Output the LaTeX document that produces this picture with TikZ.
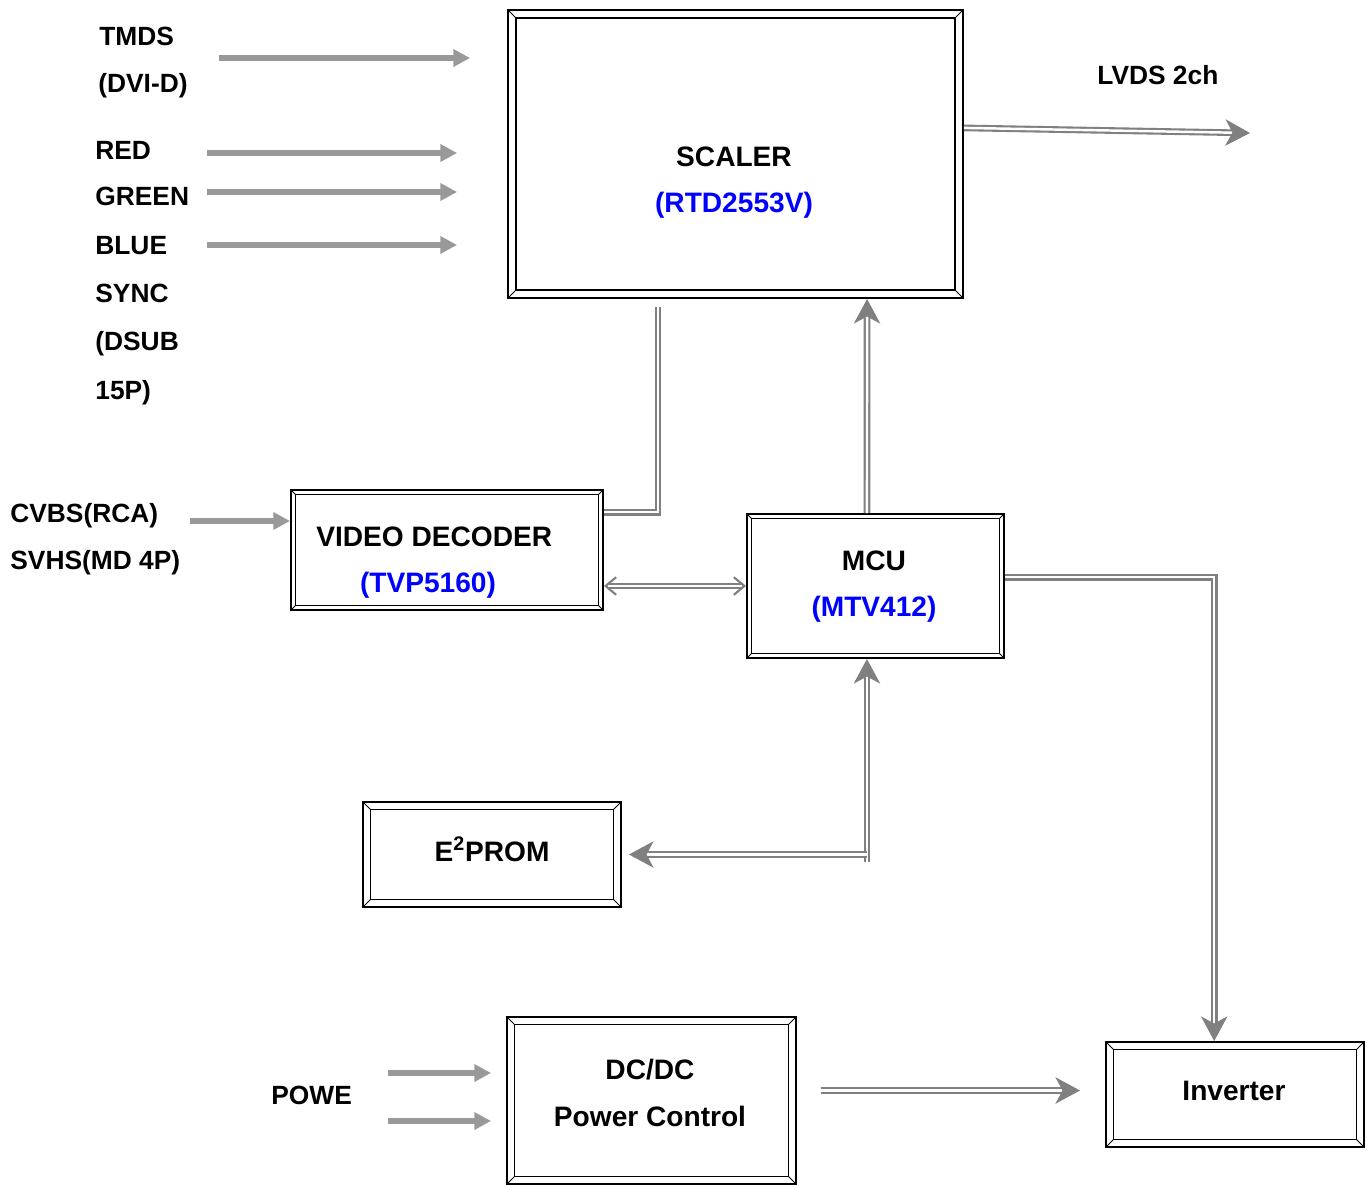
\documentclass[tikz,border=0pt]{standalone}
\usepackage{fontspec}
\setmainfont{Liberation Sans}
\usetikzlibrary{arrows.meta}
\usetikzlibrary{calc}
\tikzstyle{tag} = [font=\bfseries\fontsize{15}{18}\selectfont, inner sep=0pt, anchor=base west]
\tikzstyle{boxtext} = [font=\bfseries\fontsize{16}{19}\selectfont, inner sep=0pt, anchor=base]
\tikzstyle{chip} = [boxtext, text=blue]
\tikzstyle{feed} = [draw=black!40, line width=3pt, -{Triangle[length=9.5pt,width=9.5pt]}]
\tikzstyle{bus} = [draw=black!50, line width=1.2pt, double=white, double distance=1.4pt]
\tikzstyle{coord} = [coordinate]
\tikzset{
  block/.style={
    draw, line width=1.1pt, rectangle,
    path picture={
      % inner rim of the frame
      \draw[line width=0.9pt] ([shift={(#1,#1)}]path picture bounding box.south west)
        rectangle ([shift={(-#1,-#1)}]path picture bounding box.north east);
      % bevels at the corners
      \draw[line width=0.5pt] (path picture bounding box.south west) -- ++(#1,#1)
        (path picture bounding box.south east) -- ++(-#1,#1)
        (path picture bounding box.north west) -- ++(#1,-#1)
        (path picture bounding box.north east) -- ++(-#1,-#1);
    }
  },
  block/.default=0.15cm,
}

\begin{document}
\begin{tikzpicture}[x=0.02cm, y=-0.02cm, >={Stealth[length=14pt,width=15pt,inset=4pt]}]
  \useasboundingbox (0,0) rectangle (1367,1185);

  \node [block=0.16cm, minimum width=9.1cm, minimum height=5.76cm] (scaler) at (735.5,154) {};
  \node [block=0.09cm, minimum width=6.24cm, minimum height=2.4cm] (decoder) at (447,550) {};
  \node [block=0.09cm, minimum width=5.14cm, minimum height=2.88cm] (mcu) at (875.5,586) {};
  \node [block, minimum width=5.16cm, minimum height=2.1cm] (eeprom) at (492,854.5) {};
  \node [block, minimum width=5.78cm, minimum height=3.34cm] (dcdc) at (651.5,1100.5) {};
  \node [block, minimum width=5.16cm, minimum height=2.1cm] (inverter) at (1235,1094.5) {};

  \node [boxtext] (scalertitle) at (734,167) {SCALER};
  \node [chip] (scalerchip) at (734,213) {(RTD2553V)};
  \node [boxtext, anchor=base west] (decodertitle) at (316,547) {VIDEO DECODER};
  \node [chip] (decoderchip) at (428,593) {(TVP5160)};
  \node [boxtext] (mcutitle) at (874,571) {MCU};
  \node [chip] (mcuchip) at (874,617) {(MTV412)};
  \node [boxtext] (eepromtitle) at (492,862) {E\textsuperscript{2}PROM};
  \node [boxtext] (dcdctitle) at (650,1079) {DC/DC};
  \node [boxtext] (dcdcsub) at (650,1126) {Power Control};
  \node [boxtext] (invertertitle) at (1234,1100) {Inverter};

  \node [tag] (tmds) at (99,46) {TMDS};
  \node [tag] (dvid) at (98,93) {(DVI-D)};
  \node [tag] (red) at (95,160) {RED};
  \node [tag] (green) at (95,206) {GREEN};
  \node [tag] (blue) at (95,255) {BLUE};
  \node [tag] (sync) at (95,303) {SYNC};
  \node [tag] (dsub) at (95,351) {(DSUB};
  \node [tag] (pins) at (95,400) {15P)};
  \node [tag] (cvbs) at (10,523) {CVBS(RCA)};
  \node [tag] (svhs) at (10,570) {SVHS(MD 4P)};
  \node [tag] (lvds) at (1097,85) {LVDS 2ch};
  \node [tag] (powe) at (271,1104) {POWE};

  \node [coord] (tmdsin) at (219,58) {};
  \node [coord] (redin) at (207,153) {};
  \node [coord] (greenin) at (207,192) {};
  \node [coord] (bluein) at (207,245) {};
  \node [coord] (cvbsin) at (190,521) {};
  \node [coord] (powin1) at (388,1073) {};
  \node [coord] (powin2) at (388,1121) {};
  \node [coord] (lvdsout) at (1250,133) {};
  \node [coord] (vdup) at ($(scaler.south west)!0.33!(scaler.south east)+(0,8)$) {};
  \node [coord] (tap) at ($(mcu.south west)!0.467!(mcu.south east)+(0,203)$) {};
  \node [coord] (dcout) at ($(dcdc.east |- inverter.west)+(0,-4)$) {};

  \draw [feed, shorten >=0.74cm] (tmdsin) -- (tmdsin -| scaler.west);
  \draw [feed, shorten >=1cm] (redin) -- (redin -| scaler.west);
  \draw [feed, shorten >=1cm] (greenin) -- (greenin -| scaler.west);
  \draw [feed, shorten >=1cm] (bluein) -- (bluein -| scaler.west);
  \draw [feed] (cvbsin) -- (cvbsin -| decoder.west);
  \draw [feed, shorten >=0.3cm] (powin1) -- (powin1 -| dcdc.west);
  \draw [feed, shorten >=0.3cm] (powin2) -- (powin2 -| dcdc.west);

  \draw [bus, ->] ($(scaler.north east)!0.41!(scaler.south east)$) -- (lvdsout);
  \draw [bus] ($(decoder.north east)!0.19!(decoder.south east)$) -| (vdup);
  \draw [bus, ->] ($(mcu.north west)!0.467!(mcu.north east)$) -- ($(scaler.south west)!0.788!(scaler.south east)$);
  \draw [bus, {Straight Barb[length=6pt,width=10pt]}-{Straight Barb[length=6pt,width=10pt]}] (decoder.east |- mcu.west) -- (mcu.west);
  \draw [bus, ->] (tap) -- (tap |- mcu.south);
  \draw [bus, ->, shorten >=0.14cm] (tap |- eeprom.east) -- (eeprom.east);
  \draw [bus, ->] ($(mcu.north east)!0.44!(mcu.south east)$) -| ($(inverter.north west)!0.42!(inverter.north east)$);
  \draw [bus, ->, shorten <=0.48cm, shorten >=0.5cm] (dcout) -- (dcout -| inverter.west);
\end{tikzpicture}
\end{document}
